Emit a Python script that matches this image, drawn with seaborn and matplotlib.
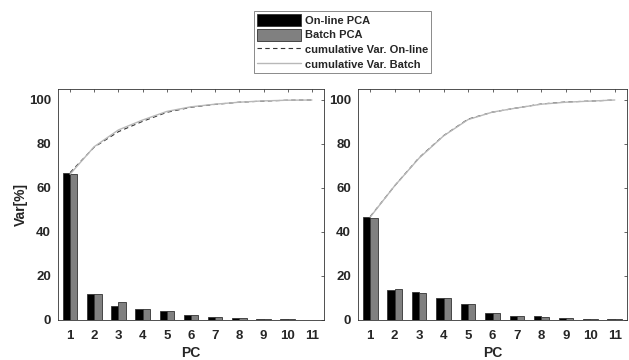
import numpy as np
import pandas as pd
import matplotlib
matplotlib.use("Agg")
import matplotlib.pyplot as plt
import seaborn as sns
from matplotlib.patches import Patch
from matplotlib.lines import Line2D

sns.set_style("white")
plt.rcParams['font.family'] = ['Liberation Sans', 'DejaVu Sans']
plt.rcParams['font.weight'] = 'bold'

pcs = list(range(1, 12))

# left panel
online_a = [67.0, 12.0, 6.5, 5.0, 4.2, 2.2, 1.3, 1.0, 0.5, 0.4, 0.05]
batch_a = [66.3, 12.0, 8.0, 4.8, 4.0, 2.2, 1.3, 1.0, 0.5, 0.4, 0.1]
cum_online_a = [67.0, 78.6, 85.6, 90.3, 94.4, 96.7, 98.0, 99.0, 99.5, 99.9, 100.0]
cum_batch_a = [66.3, 78.8, 86.4, 90.9, 94.8, 96.9, 98.1, 99.0, 99.6, 99.9, 100.0]

# right panel
online_b = [47.0, 13.8, 12.8, 9.8, 7.3, 3.2, 1.9, 1.8, 0.9, 0.3, 0.3]
batch_b = [46.5, 14.3, 12.3, 10.1, 7.4, 3.2, 1.9, 1.5, 1.0, 0.3, 0.3]
cum_online_b = [47.0, 61.0, 73.8, 83.8, 91.3, 94.5, 96.4, 98.2, 99.1, 99.5, 100.0]
cum_batch_b = [46.8, 61.0, 73.6, 83.7, 91.1, 94.5, 96.4, 98.1, 99.0, 99.5, 100.0]

methods = ['On-line PCA', 'Batch PCA']
bar_colors = ['#000000', '#808080']
txt = '#262626'


def draw_panel(ax, online, batch, cum_on, cum_ba):
    df = pd.DataFrame({
        'PC': pcs * 2,
        'Var': online + batch,
        'Method': [methods[0]] * 11 + [methods[1]] * 11,
    })
    sns.barplot(data=df, x='PC', y='Var', hue='Method', native_scale=True,
                palette=bar_colors, width=0.6, edgecolor='#333333',
                linewidth=0.6, ax=ax, legend=False)
    sns.lineplot(x=pcs, y=cum_on, color='#333333', linewidth=0.8,
                 linestyle=(0, (4, 3)), ax=ax)
    sns.lineplot(x=pcs, y=cum_ba, color='#b8b8b8', linewidth=1.0, ax=ax)
    ax.set_xlim(0.5, 11.5)
    ax.set_ylim(0, 105)
    ax.set_xticks(pcs)
    ax.set_yticks([0, 20, 40, 60, 80, 100])
    ax.set_xlabel('PC', fontsize=10, fontweight='bold', color=txt, labelpad=3)
    ax.set_ylabel('')
    ax.tick_params(direction='in', top=True, right=True, length=2.5,
                   width=0.5, labelsize=9.5, colors=txt)
    ax.tick_params(axis='x', pad=7)
    ax.tick_params(axis='y', pad=5)
    for lab in ax.get_xticklabels() + ax.get_yticklabels():
        lab.set_fontweight('bold')
    for sp in ax.spines.values():
        sp.set_color('#333333')
        sp.set_linewidth(0.6)


fig = plt.figure(figsize=(6.29, 3.6), dpi=100)
ax1 = fig.add_axes([58 / 629, 40 / 360, 266 / 629, 231 / 360])
ax2 = fig.add_axes([358 / 629, 40 / 360, 269 / 629, 231 / 360])

draw_panel(ax1, online_a, batch_a, cum_online_a, cum_batch_a)
draw_panel(ax2, online_b, batch_b, cum_online_b, cum_batch_b)
ax1.set_ylabel('Var[%]', fontsize=10, fontweight='bold', color=txt, labelpad=1)

handles = [
    Patch(facecolor='#000000', edgecolor='#333333', linewidth=0.6),
    Patch(facecolor='#808080', edgecolor='#333333', linewidth=0.6),
    Line2D([], [], color='#333333', linewidth=0.8, linestyle=(0, (4, 3))),
    Line2D([], [], color='#b8b8b8', linewidth=1.0),
]
labels = ['On-line PCA', 'Batch PCA', 'cumulative Var. On-line', 'cumulative Var. Batch']
leg = fig.legend(handles, labels, loc='upper left', bbox_to_anchor=(254 / 629, 1 - 11 / 360),
                 prop={'size': 8, 'weight': 'bold'}, frameon=True, fancybox=False,
                 borderpad=0.25, labelspacing=0.25, handlelength=4.0, handleheight=1.3,
                 handletextpad=0.3, borderaxespad=0)
for t in leg.get_texts():
    t.set_color(txt)
leg.get_frame().set_edgecolor('#555555')
leg.get_frame().set_linewidth(0.6)

fig.savefig('out.png', dpi=100)
